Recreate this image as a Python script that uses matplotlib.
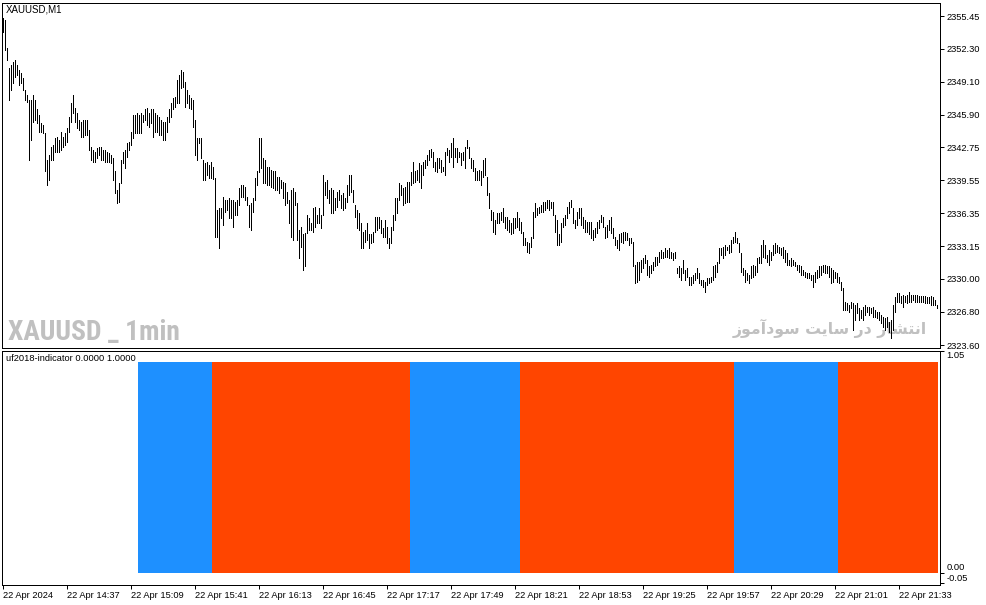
import matplotlib
matplotlib.use("Agg")
import matplotlib.pyplot as plt
from matplotlib import font_manager

# ---------------- data ----------------
symbol_title = "XAUUSD,M1"
indicator_title = "uf2018-indicator 0.0000 1.0000"
watermark_left = "XAUUSD _ 1min"
# Persian watermark "انتشار در سایت سودآموز" (pre-shaped, visual order)
watermark_right = ("\uFEAF\uFEEE\uFEE3\uFE81\uFEA9\uFEEE\uFEB3" + " " +
                   "\uFE96\uFEF3\uFE8E\uFEB3" + " " +
                   "\uFEAD\uFEA9" + " " +
                   "\uFEAD\uFE8E\uFEB8\uFE98\uFEE7\uFE8D")

highs = [
    2355.3, 2355.1, 2352.4, 2350.4, 2350.7, 2351.0, 2351.2, 2350.7, 2350.2, 2349.9,
    2349.4, 2348.3, 2347.8, 2347.3, 2347.3, 2347.8, 2347.3, 2346.4, 2345.9, 2345.1,
    2344.9, 2344.1, 2341.5, 2342.0, 2342.8, 2343.0, 2343.6, 2343.7, 2343.4, 2344.2,
    2343.7, 2344.1, 2344.6, 2345.7, 2347.0, 2347.8, 2346.5, 2346.1, 2345.4, 2345.2,
    2345.4, 2345.4, 2345.4, 2344.4, 2342.8, 2342.5, 2342.3, 2342.7, 2342.8, 2342.8,
    2342.5, 2342.5, 2342.3, 2342.2, 2342.0, 2341.7, 2340.4, 2338.6, 2339.3, 2341.5,
    2342.3, 2342.5, 2343.2, 2343.3, 2344.2, 2345.9, 2345.9, 2346.1, 2345.9, 2346.1,
    2345.9, 2346.4, 2346.5, 2346.1, 2346.4, 2346.4, 2346.1, 2345.9, 2345.7, 2345.4,
    2345.2, 2345.2, 2345.7, 2346.4, 2347.0, 2347.5, 2347.6, 2349.3, 2349.7, 2350.2,
    2350.0, 2349.1, 2348.3, 2347.8, 2347.5, 2347.3, 2345.4, 2343.6, 2343.6, 2343.6,
    2341.5, 2341.2, 2341.3, 2341.0, 2341.3, 2340.8, 2339.8, 2336.7, 2336.9, 2336.9,
    2337.9, 2337.6, 2337.6, 2337.8, 2337.6, 2337.6, 2337.4, 2337.6, 2338.8, 2339.1,
    2339.1, 2338.9, 2337.9, 2337.2, 2337.3, 2337.8, 2339.8, 2340.4, 2343.6, 2343.6,
    2341.7, 2341.5, 2340.8, 2340.8, 2340.5, 2340.4, 2340.4, 2339.9, 2339.9, 2339.6,
    2339.4, 2339.3, 2338.4, 2337.6, 2338.6, 2338.8, 2338.4, 2337.3, 2334.7, 2335.0,
    2334.3, 2334.4, 2336.2, 2335.9, 2335.4, 2336.9, 2337.0, 2336.2, 2336.9, 2336.2,
    2340.1, 2339.4, 2339.6, 2338.6, 2338.8, 2338.6, 2337.8, 2338.4, 2338.6, 2338.1,
    2338.3, 2337.8, 2339.1, 2340.1, 2340.1, 2338.6, 2337.2, 2336.7, 2336.4, 2335.4,
    2334.5, 2334.7, 2335.4, 2334.3, 2334.3, 2334.5, 2336.0, 2336.0, 2336.0, 2335.7,
    2334.9, 2335.7, 2335.0, 2334.0, 2335.0, 2336.2, 2337.8, 2337.8, 2339.3, 2339.1,
    2338.8, 2338.9, 2339.4, 2339.4, 2340.3, 2341.3, 2340.4, 2340.5, 2341.2, 2341.0,
    2341.3, 2341.5, 2342.0, 2342.5, 2342.6, 2342.3, 2341.3, 2341.7, 2341.7, 2341.5,
    2340.8, 2342.3, 2342.7, 2342.5, 2343.2, 2343.6, 2342.7, 2342.7, 2342.3, 2342.2,
    2342.3, 2342.8, 2343.4, 2342.8, 2341.7, 2341.5, 2340.7, 2340.4, 2340.5, 2340.4,
    2341.5, 2341.7, 2339.9, 2338.3, 2336.7, 2336.5, 2335.7, 2336.4, 2336.4, 2336.5,
    2336.9, 2336.0, 2336.0, 2335.7, 2335.4, 2335.9, 2335.9, 2336.5, 2335.9, 2335.5,
    2334.5, 2334.0, 2333.6, 2333.5, 2334.1, 2336.5, 2337.3, 2336.9, 2337.0, 2337.2,
    2337.4, 2337.4, 2337.6, 2337.6, 2337.4, 2337.4, 2336.2, 2335.7, 2334.3, 2335.4,
    2335.9, 2336.2, 2337.0, 2337.4, 2337.6, 2336.9, 2335.7, 2336.5, 2336.9, 2336.9,
    2336.0, 2335.7, 2335.5, 2335.5, 2335.5, 2334.7, 2334.9, 2335.5, 2335.7, 2336.2,
    2336.0, 2335.0, 2335.2, 2335.7, 2336.0, 2334.9, 2334.1, 2333.8, 2334.3, 2334.4,
    2334.5, 2334.5, 2334.4, 2334.0, 2334.0, 2333.6, 2331.3, 2331.6, 2331.6, 2331.8,
    2332.0, 2332.3, 2331.8, 2331.2, 2331.3, 2331.6, 2332.1, 2332.1, 2332.6, 2332.8,
    2332.6, 2333.0, 2332.8, 2333.0, 2332.6, 2332.5, 2332.6, 2331.1, 2331.2, 2331.1,
    2331.8, 2330.9, 2331.1, 2330.2, 2330.2, 2330.4, 2330.6, 2331.1, 2330.6, 2329.9,
    2329.9, 2329.7, 2330.1, 2330.1, 2330.2, 2331.2, 2331.3, 2331.6, 2333.0, 2333.0,
    2333.1, 2333.3, 2333.1, 2333.3, 2333.8, 2334.1, 2334.5, 2334.0, 2333.5, 2332.5,
    2331.1, 2330.9, 2330.6, 2330.4, 2331.2, 2331.3, 2331.2, 2332.0, 2332.1, 2333.3,
    2333.8, 2333.3, 2332.3, 2332.8, 2332.6, 2333.3, 2333.5, 2333.3, 2333.1, 2333.0,
    2333.1, 2332.8, 2332.5, 2331.8, 2332.0, 2331.8, 2331.6, 2331.3, 2331.3, 2331.2,
    2330.9, 2330.7, 2330.6, 2330.6, 2330.4, 2330.4, 2330.7, 2330.9, 2331.2, 2331.2,
    2331.3, 2331.3, 2331.2, 2331.2, 2331.1, 2330.9, 2330.7, 2330.6, 2330.2, 2329.7,
    2329.1, 2327.8, 2327.7, 2327.5, 2327.8, 2327.7, 2327.5, 2327.7, 2327.2, 2327.0,
    2327.3, 2327.5, 2327.3, 2327.3, 2327.2, 2327.3, 2327.0, 2326.8, 2326.8, 2326.5,
    2326.3, 2326.2, 2326.3, 2325.8, 2326.0, 2327.5, 2328.2, 2328.6, 2328.6, 2328.3,
    2328.4, 2328.3, 2328.4, 2328.7, 2328.4, 2328.4, 2328.4, 2328.4, 2328.3, 2328.3,
    2328.3, 2328.3, 2328.2, 2328.2, 2328.3, 2328.2, 2328.0, 2327.5,
]

lows = [
    2353.9, 2352.2, 2351.2, 2347.3, 2348.3, 2349.0, 2349.5, 2349.7, 2348.8, 2349.0,
    2348.3, 2347.3, 2347.1, 2341.5, 2343.4, 2345.2, 2345.4, 2345.1, 2344.2, 2344.2,
    2344.1, 2340.4, 2339.1, 2339.6, 2341.5, 2341.5, 2342.3, 2342.3, 2342.3, 2342.5,
    2342.8, 2343.0, 2343.3, 2344.2, 2345.2, 2346.1, 2345.2, 2344.6, 2344.4, 2343.7,
    2343.7, 2343.9, 2343.9, 2342.5, 2341.5, 2341.3, 2341.3, 2341.7, 2342.0, 2341.5,
    2341.5, 2341.3, 2341.3, 2341.3, 2341.2, 2339.6, 2338.3, 2337.3, 2337.4, 2339.3,
    2341.2, 2340.7, 2341.8, 2342.5, 2343.0, 2343.6, 2344.1, 2344.1, 2344.1, 2344.1,
    2345.2, 2345.4, 2344.9, 2344.7, 2345.1, 2343.7, 2344.2, 2344.2, 2343.9, 2343.9,
    2343.4, 2343.4, 2344.2, 2345.2, 2345.7, 2346.4, 2346.6, 2347.0, 2347.0, 2348.5,
    2348.6, 2346.6, 2347.0, 2346.5, 2346.4, 2344.7, 2342.0, 2341.5, 2343.2, 2341.7,
    2339.6, 2339.6, 2340.1, 2339.8, 2339.8, 2339.7, 2334.1, 2334.1, 2333.0, 2335.9,
    2335.2, 2336.5, 2336.7, 2335.9, 2335.9, 2335.0, 2336.2, 2336.2, 2337.2, 2337.9,
    2337.9, 2337.6, 2337.2, 2335.0, 2334.7, 2336.5, 2337.6, 2339.1, 2340.3, 2340.7,
    2339.3, 2339.3, 2339.1, 2339.1, 2338.9, 2338.8, 2338.6, 2338.6, 2338.3, 2338.8,
    2337.8, 2337.2, 2337.3, 2335.4, 2334.1, 2333.8, 2337.2, 2333.8, 2332.0, 2333.1,
    2330.9, 2331.2, 2334.4, 2334.7, 2334.7, 2334.5, 2335.0, 2335.4, 2335.4, 2334.9,
    2336.2, 2338.1, 2337.8, 2337.3, 2336.4, 2336.4, 2336.7, 2337.0, 2337.6, 2336.9,
    2336.7, 2336.9, 2337.4, 2338.1, 2338.4, 2337.4, 2336.0, 2334.9, 2334.7, 2333.0,
    2333.0, 2333.6, 2333.8, 2333.0, 2333.5, 2333.6, 2334.5, 2334.7, 2334.9, 2334.4,
    2334.1, 2334.1, 2333.5, 2333.0, 2333.5, 2334.7, 2335.7, 2336.4, 2337.6, 2338.1,
    2337.2, 2337.3, 2337.4, 2337.4, 2339.1, 2339.3, 2339.4, 2339.6, 2339.4, 2338.8,
    2340.1, 2340.7, 2341.0, 2341.5, 2341.8, 2340.8, 2340.4, 2340.3, 2340.7, 2340.3,
    2340.4, 2340.1, 2342.0, 2341.3, 2341.8, 2340.8, 2341.8, 2341.3, 2341.8, 2341.0,
    2341.5, 2340.7, 2342.7, 2341.7, 2340.7, 2340.4, 2339.6, 2339.6, 2339.6, 2339.1,
    2339.9, 2340.1, 2338.1, 2336.9, 2335.7, 2334.5, 2334.3, 2335.4, 2335.4, 2335.7,
    2335.5, 2334.9, 2334.7, 2334.5, 2334.3, 2334.4, 2334.9, 2335.0, 2334.7, 2334.4,
    2333.3, 2333.3, 2332.6, 2332.5, 2333.1, 2334.0, 2336.0, 2336.2, 2336.4, 2336.5,
    2336.5, 2336.7, 2336.9, 2336.7, 2336.9, 2336.2, 2334.5, 2333.3, 2333.3, 2333.6,
    2335.0, 2335.2, 2335.9, 2336.4, 2337.0, 2335.4, 2334.9, 2335.2, 2335.9, 2335.2,
    2334.9, 2334.5, 2334.5, 2334.3, 2334.0, 2333.8, 2334.1, 2334.4, 2334.9, 2335.5,
    2335.0, 2334.0, 2334.1, 2334.7, 2334.4, 2334.0, 2333.3, 2333.0, 2332.8, 2333.6,
    2333.5, 2333.8, 2333.8, 2333.3, 2333.5, 2331.2, 2329.6, 2329.7, 2329.9, 2330.7,
    2331.1, 2331.5, 2330.4, 2330.2, 2330.6, 2330.9, 2331.2, 2331.3, 2331.6, 2332.0,
    2332.0, 2332.1, 2332.1, 2332.0, 2332.0, 2331.8, 2332.0, 2330.6, 2330.2, 2329.9,
    2330.6, 2329.9, 2330.2, 2329.4, 2329.4, 2329.6, 2329.9, 2330.1, 2329.6, 2329.4,
    2329.2, 2328.7, 2329.4, 2329.6, 2329.7, 2329.9, 2330.2, 2330.7, 2331.5, 2332.3,
    2332.0, 2332.3, 2332.8, 2332.5, 2332.6, 2333.5, 2333.6, 2333.5, 2332.6, 2330.7,
    2330.4, 2329.7, 2329.9, 2329.6, 2330.1, 2330.2, 2330.4, 2330.7, 2331.5, 2331.5,
    2332.1, 2332.0, 2331.6, 2331.3, 2331.8, 2332.3, 2332.5, 2332.6, 2332.5, 2332.3,
    2332.0, 2331.6, 2331.3, 2331.3, 2331.2, 2331.3, 2331.2, 2330.9, 2330.7, 2330.4,
    2330.4, 2330.2, 2330.1, 2330.1, 2329.9, 2329.2, 2329.7, 2330.1, 2330.2, 2330.4,
    2330.7, 2330.6, 2330.6, 2330.2, 2329.6, 2329.7, 2330.1, 2329.7, 2329.6, 2328.9,
    2327.0, 2327.0, 2327.0, 2326.8, 2327.2, 2325.1, 2326.0, 2326.7, 2326.0, 2326.2,
    2326.0, 2326.5, 2326.8, 2326.5, 2326.7, 2326.3, 2326.3, 2326.2, 2326.0, 2325.7,
    2325.3, 2325.1, 2325.3, 2324.9, 2324.3, 2325.1, 2326.8, 2327.8, 2327.8, 2327.7,
    2327.3, 2327.8, 2327.7, 2327.8, 2327.8, 2328.0, 2327.8, 2327.8, 2327.8, 2327.8,
    2327.8, 2327.7, 2327.7, 2327.7, 2327.5, 2327.5, 2327.5, 2327.2,
]

# indicator runs (bar index ranges) and direction
run_starts = [68, 105, 204, 259, 366, 418]
run_ends = [104, 203, 258, 365, 417, 467]
run_dirs = ["up", "down", "up", "down", "up", "down"]
indicator_value = 1.0

price_ticks = [2323.60, 2326.80, 2330.00, 2333.15, 2336.35, 2339.55,
               2342.75, 2345.90, 2349.10, 2352.30, 2355.45]
ind_ticks = [1.05, 0.00, -0.05]
time_tick_bars = [0, 32, 64, 96, 128, 160, 192, 224, 256, 288, 320, 352, 384, 416, 448]
time_tick_labels = ["22 Apr 2024", "22 Apr 14:37", "22 Apr 15:09", "22 Apr 15:41",
                    "22 Apr 16:13", "22 Apr 16:45", "22 Apr 17:17", "22 Apr 17:49",
                    "22 Apr 18:21", "22 Apr 18:53", "22 Apr 19:25", "22 Apr 19:57",
                    "22 Apr 20:29", "22 Apr 21:01", "22 Apr 21:33"]

# ---------------- styling ----------------
ttf = font_manager.fontManager.ttflist
avail = {f.name for f in ttf}
base_font = "Liberation Sans" if "Liberation Sans" in avail else "DejaVu Sans"

wm_family = base_font
wm_stretch = "normal"
for cand in ["Roboto Condensed", "Liberation Sans Narrow", "Open Sans Condensed"]:
    if cand in avail:
        wm_family = cand
        break
else:
    if any(f.name == "DejaVu Sans" and f.stretch in ("condensed", "semi-condensed") for f in ttf):
        wm_family = "DejaVu Sans"
        wm_stretch = "condensed"

plt.rcParams["font.family"] = [base_font, "DejaVu Sans"]

UP_COLOR = "#1E90FF"
DN_COLOR = "#FF4500"
WM_COLOR = "#C0C0C0"
FS = 6.7
PX = 0.72  # one pixel in points at dpi 100

W, H = 987, 605
fig = plt.figure(figsize=(W / 100, H / 100), dpi=100)
fig.patch.set_facecolor("white")


def rect(x0, y0, x1, y1):
    return [x0 / W, 1 - y1 / H, (x1 - x0) / W, (y1 - y0) / H]


ax = fig.add_axes(rect(2.5, 2.5, 940.5, 347.5))
ax2 = fig.add_axes(rect(2.5, 350.5, 940.5, 584.5))

n = len(highs)
idx = list(range(n))
xlim = (-0.5, 468.5)

# price bars
ax.vlines(idx, lows, highs, colors="black", linewidth=PX, antialiased=False, zorder=3)
ax.set_xlim(*xlim)
# y scale: 2355.45 at pixel 16, 2323.60 at pixel 345
slope = (2355.45 - 2323.60) / (345 - 16)
ax.set_ylim(2355.45 - (347.5 - 16) * slope, 2355.45 + (16 - 2.5) * slope)

ax.yaxis.tick_right()
ax.set_yticks(price_ticks)
ax.set_yticklabels([f"{v:.2f}" for v in price_ticks])
ax.tick_params(axis="y", direction="out", length=4 * PX, width=PX, pad=1.5,
               labelsize=FS, colors="black")
ax.tick_params(axis="x", bottom=False, labelbottom=False)
for s in ax.spines.values():
    s.set_linewidth(PX)
    s.set_color("black")

ax.text(6 / W, 1 - 9.5 / H, symbol_title, transform=fig.transFigure, fontsize=7,
        color="black", va="center", ha="left", zorder=5)
wm1 = ax.text(8 / W, 1 - 340 / H, watermark_left, transform=fig.transFigure,
              fontsize=20, fontweight="bold", family=[wm_family, "DejaVu Sans"],
              fontstretch=wm_stretch,
              color=WM_COLOR, va="baseline", ha="left", zorder=1)
wm2 = ax.text(927 / W, 1 - 334 / H, watermark_right, transform=fig.transFigure,
              fontsize=14, fontweight="bold", family=["DejaVu Sans"],
              color=WM_COLOR, va="baseline", ha="right", zorder=1)

# fit watermark widths to the reference
renderer = fig.canvas.get_renderer()
for t, target in ((wm1, 172.0), (wm2, 195.0)):
    w = t.get_window_extent(renderer=renderer).width
    if w > 0:
        t.set_fontsize(t.get_fontsize() * target / w)

# indicator histogram
for s0, e0, d in zip(run_starts, run_ends, run_dirs):
    xs = list(range(s0, e0 + 1))
    ax2.bar(xs, [indicator_value] * len(xs), width=1.0, bottom=0,
            color=UP_COLOR if d == "up" else DN_COLOR, linewidth=0,
            antialiased=False, zorder=2)
ax2.set_xlim(*xlim)
ax2.set_ylim(-12 / 210.5, 1 + 11.5 / 210.5)
ax2.yaxis.tick_right()
ax2.set_yticks(ind_ticks)
ax2.set_yticklabels([f"{v:.2f}" for v in ind_ticks])
ax2.tick_params(axis="y", direction="out", length=4 * PX, width=PX, pad=1.5,
                labelsize=FS, colors="black")
labs = ax2.get_yticklabels()
labs[0].set_va("top")
labs[1].set_va("bottom")
labs[2].set_va("bottom")

ax2.set_xticks(time_tick_bars)
ax2.set_xticklabels(time_tick_labels, ha="left")
ax2.tick_params(axis="x", direction="out", length=4 * PX, width=PX, pad=1.5,
                labelsize=FS, colors="black")
for s in ax2.spines.values():
    s.set_linewidth(PX)
    s.set_color("black")

ax2.text(6 / W, 1 - 358.5 / H, indicator_title, transform=fig.transFigure,
         fontsize=FS, color="black", va="center", ha="left", zorder=5)

fig.savefig("out.png", dpi=100, facecolor="white")
